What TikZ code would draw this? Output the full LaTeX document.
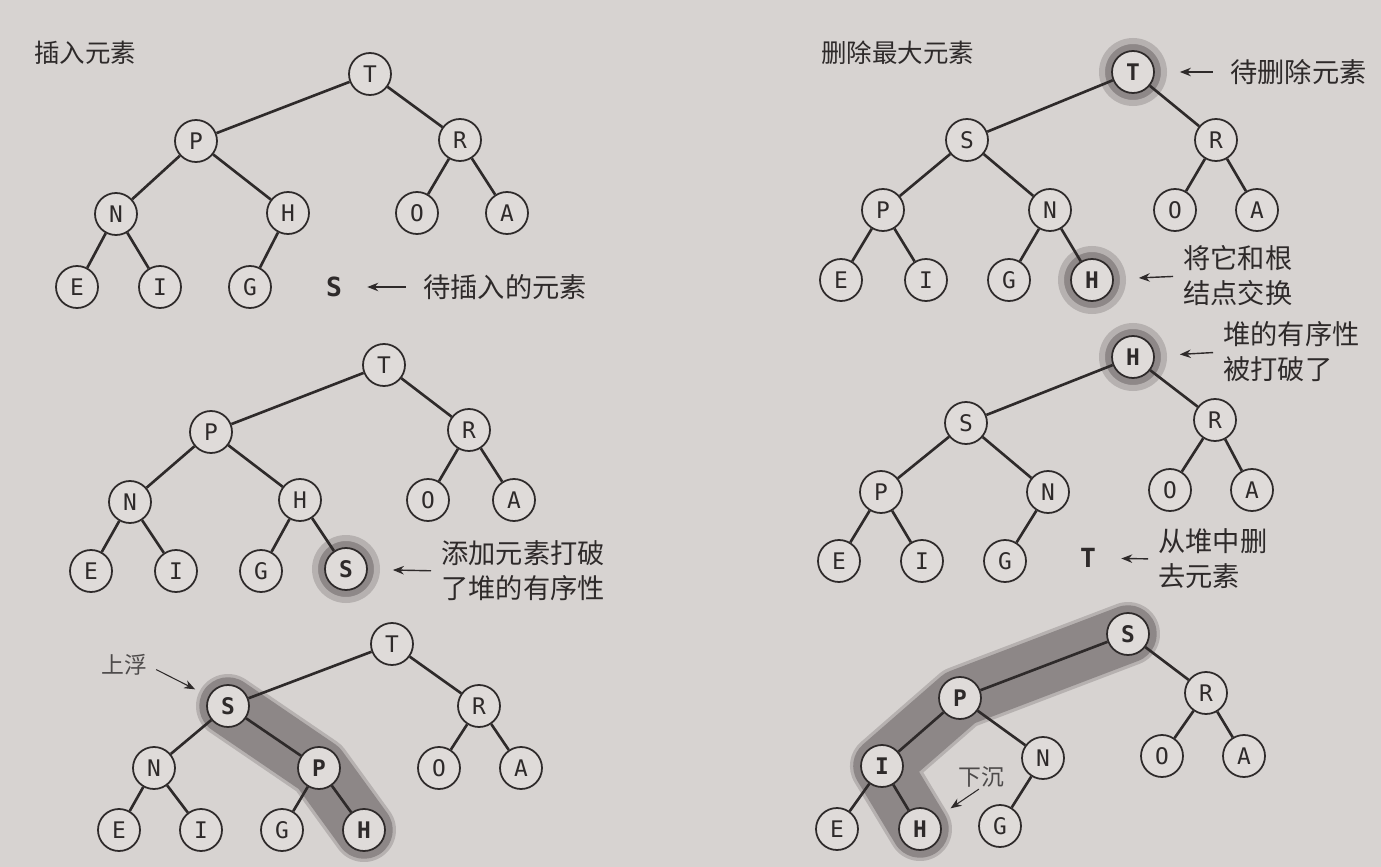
\documentclass[tikz,border=0pt]{standalone}
\usepackage{fontspec}
\setmainfont{DejaVu Sans}
\newfontfamily\keyfont{DejaVu Sans Mono}
\newfontfamily\cjk{Noto Sans CJK SC}
\usetikzlibrary{arrows.meta}
\definecolor{paper}{HTML}{D7D3D1}
\definecolor{nodefill}{HTML}{DFDBD9}
\definecolor{ink}{HTML}{2E2A2A}
\definecolor{ringc}{HTML}{8E8888}
\definecolor{bandc}{HTML}{8D8787}
\pgfdeclarelayer{back}
\pgfsetlayers{back,main}

\begin{document}
\begin{tikzpicture}[x=0.2mm,y=-0.2mm,
 key/.style={circle,draw=ink,fill=nodefill,line width=1pt,minimum size=8.4mm,inner sep=0pt,text=ink,font=\keyfont\fontsize{13}{13}\selectfont},
 hot/.style={key,font=\keyfont\bfseries\fontsize{13}{13}\selectfont},
 lone/.style={inner sep=0pt,text=ink,font=\keyfont\bfseries\fontsize{15}{15}\selectfont},
 note/.style={anchor=west,align=left,inner sep=0pt,text=ink,font=\cjk\fontsize{15.5}{20}\selectfont},
 title/.style={anchor=west,inner sep=0pt,text=ink,font=\cjk\fontsize{14.5}{16}\selectfont},
 tag/.style={inner sep=0pt,text=ink!85,font=\cjk\fontsize{13}{14}\selectfont},
 link/.style={draw=ink,line width=1.5pt},
 arr/.style={draw=ink,line width=0.8pt,-{Stealth[length=2.2mm,width=1.7mm]},shorten <=2mm,shorten >=5mm},
 ring/.style={fill=ringc,draw=ringc!45!paper,line width=1.2mm},
 band/.style={draw=bandc,line width=11.5mm,line cap=round,line join=round,
   preaction={draw=bandc!45!paper,line width=12.8mm,line cap=round,line join=round}}]
\begin{pgfonlayer}{back}
\fill[paper] (0,0) rectangle (1381,867);
\end{pgfonlayer}
%insert
\node[title] (aTitle) at (34,53) {插入元素};
\node[key] (aT) at (370,74) {T};
\node[key] (aP) at (196,141) {P};
\node[key] (aR) at (460,140) {R};
\node[key] (aN) at (116,214) {N};
\node[key] (aH) at (288,213) {H};
\node[key] (aO) at (417,213) {O};
\node[key] (aA) at (507,213) {A};
\node[key] (aE) at (77,287) {E};
\node[key] (aI) at (160,287) {I};
\node[key] (aG) at (250,287) {G};
\node[lone] (aS) at (334,287) {S};
\node[note] (aNote) at (423,287) {待插入的元素};
\draw[link] (aT) -- (aP) (aT) -- (aR) (aP) -- (aN) (aP) -- (aH) (aN) -- (aE) (aN) -- (aI) (aH) -- (aG) (aR) -- (aO) (aR) -- (aA);
\draw[arr,shorten <=3.5mm] (aNote) -- (aS);
%2
\node[key] (bT) at (384,365) {T};
\node[key] (bP) at (211,432) {P};
\node[key] (bR) at (469,430) {R};
\node[key] (bN) at (130,502) {N};
\node[key] (bH) at (300,500) {H};
\node[key] (bO) at (428,500) {O};
\node[key] (bA) at (514,500) {A};
\node[key] (bE) at (91,571) {E};
\node[key] (bI) at (176,571) {I};
\node[key] (bG) at (261,571) {G};
\node[hot] (bS) at (346,569) {S};
\node[note] (bNote) at (441,571) {添加元素打破\\了堆的有序性};
\draw[link] (bT) -- (bP) (bT) -- (bR) (bP) -- (bN) (bP) -- (bH) (bN) -- (bE) (bN) -- (bI) (bH) -- (bG) (bH) -- (bS) (bR) -- (bO) (bR) -- (bA);
\draw[arr] (bNote.west) -- (bS);
%3
\node[key] (cT) at (392,644) {T};
\node[hot] (cS) at (228,706) {S};
\node[key] (cR) at (479,706) {R};
\node[key] (cN) at (154,768) {N};
\node[hot] (cP) at (319,768) {P};
\node[key] (cO) at (439,768) {O};
\node[key] (cA) at (521,768) {A};
\node[key] (cE) at (119,830) {E};
\node[key] (cI) at (201,830) {I};
\node[key] (cG) at (282,830) {G};
\node[hot] (cH) at (364,830) {H};
\node[tag] (cUp) at (124,665) {上浮};
\draw[link] (cT) -- (cS) (cT) -- (cR) (cS) -- (cN) (cS) -- (cP) (cN) -- (cE) (cN) -- (cI) (cP) -- (cG) (cP) -- (cH) (cR) -- (cO) (cR) -- (cA);
\draw[arr,line width=0.6pt,shorten >=3mm] (cUp.east) -- (cS);
%delete
\node[title] (dTitle) at (821,53) {删除最大元素};
\node[hot] (dT) at (1133,72) {T};
\node[key] (dS) at (967,140) {S};
\node[key] (dR) at (1216,140) {R};
\node[key] (dP) at (883,210) {P};
\node[key] (dN) at (1050,210) {N};
\node[key] (dO) at (1175,210) {O};
\node[key] (dA) at (1257,210) {A};
\node[key] (dE) at (841,280) {E};
\node[key] (dI) at (926,280) {I};
\node[key] (dG) at (1009,280) {G};
\node[hot] (dH) at (1092,280) {H};
\node[note] (dNote) at (1230,72) {待删除元素};
\node[note] (dSwap) at (1183,276) {将它和根\\结点交换};
\draw[link] (dT) -- (dS) (dT) -- (dR) (dS) -- (dP) (dS) -- (dN) (dP) -- (dE) (dP) -- (dI) (dN) -- (dG) (dN) -- (dH) (dR) -- (dO) (dR) -- (dA);
\draw[arr,shorten <=3.5mm] (dNote) -- (dT);
\draw[arr] (dSwap.west) -- (dH);
%5
\node[hot] (eH) at (1133,357) {H};
\node[key] (eS) at (966,423) {S};
\node[key] (eR) at (1215,420) {R};
\node[key] (eP) at (881,492) {P};
\node[key] (eN) at (1048,492) {N};
\node[key] (eO) at (1170,490) {O};
\node[key] (eA) at (1252,490) {A};
\node[key] (eE) at (839,561) {E};
\node[key] (eI) at (922,561) {I};
\node[key] (eG) at (1005,561) {G};
\node[lone] (eT) at (1088,558) {T};
\node[note] (eNote) at (1223,352) {堆的有序性\\被打破了};
\node[note] (eOut) at (1158,559) {从堆中删\\去元素};
\draw[link] (eH) -- (eS) (eH) -- (eR) (eS) -- (eP) (eS) -- (eN) (eP) -- (eE) (eP) -- (eI) (eN) -- (eG) (eR) -- (eO) (eR) -- (eA);
\draw[arr] (eNote.west) -- (eH);
\draw[arr] (eOut.west) -- (eT);
%6
\node[hot] (fS) at (1128,634) {S};
\node[hot] (fP) at (960,698) {P};
\node[key] (fR) at (1206,693) {R};
\node[hot] (fI) at (882,766) {I};
\node[key] (fN) at (1043,758) {N};
\node[key] (fO) at (1162,756) {O};
\node[key] (fA) at (1244,756) {A};
\node[key] (fE) at (837,829) {E};
\node[hot] (fH) at (920,829) {H};
\node[key] (fG) at (1000,826) {G};
\node[tag] (fDown) at (981,777) {下沉};
\draw[link] (fS) -- (fP) (fS) -- (fR) (fP) -- (fI) (fP) -- (fN) (fI) -- (fE) (fI) -- (fH) (fN) -- (fG) (fR) -- (fO) (fR) -- (fA);
\draw[arr,line width=0.6pt,shorten <=0.5mm,shorten >=3mm] (fDown.south) -- (fH);
\begin{pgfonlayer}{back}
\draw[ring] (bS) circle (6.2mm);
\draw[ring] (dT) circle (6.2mm);
\draw[ring] (dH) circle (6.2mm);
\draw[ring] (eH) circle (6.2mm);
\draw[band] (cS.center) -- (cP.center) -- (cH.center);
\draw[band] (fS.center) -- (fP.center) -- (fI.center) -- (fH.center);
\end{pgfonlayer}
\end{tikzpicture}
\end{document}
